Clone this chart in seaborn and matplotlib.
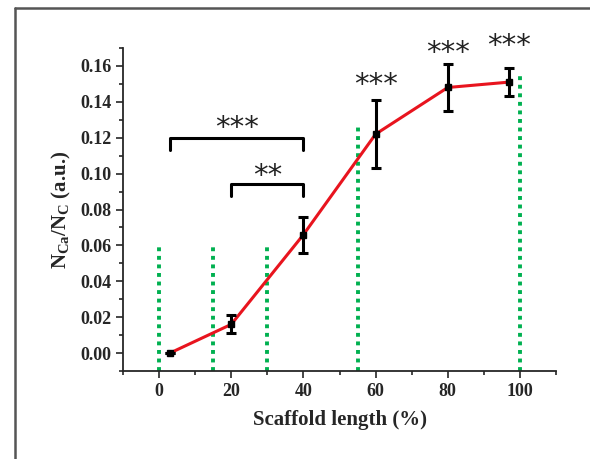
import numpy as np
import pandas as pd
import seaborn as sns
import matplotlib.pyplot as plt
from matplotlib.lines import Line2D
from matplotlib.ticker import MultipleLocator

# data
length = [3, 20, 40, 60, 80, 97]
ratio = [0.000, 0.016, 0.066, 0.122, 0.148, 0.151]
err = [0.000, 0.005, 0.010, 0.019, 0.013, 0.008]
stars_x = [60, 80, 97]
stars_y = [0.151, 0.169, 0.173]
guide_x = [0, 15, 30, 55, 100]
guide_top = [0.060, 0.060, 0.060, 0.128, 0.155]

sns.set_style("ticks")
plt.rcParams['font.family'] = ['Liberation Serif', 'DejaVu Serif']
plt.rcParams['mathtext.fontset'] = 'custom'
plt.rcParams['mathtext.rm'] = 'Liberation Serif:bold'
plt.rcParams['mathtext.it'] = 'Liberation Serif:bold'
plt.rcParams['mathtext.bf'] = 'Liberation Serif:bold'

fig = plt.figure(figsize=(5.9, 4.59), dpi=100)
ax = fig.add_axes([0.2085, 0.1917, 0.7339, 0.7037])

# green dotted guides
for gx, gt in zip(guide_x, guide_top):
    ax.plot([gx, gx], [-0.01, gt], color='#00b050', lw=2.8, ls=(0, (1, 1.2)), zorder=1)

df = pd.DataFrame({'length': length, 'ratio': ratio})
sns.lineplot(data=df, x='length', y='ratio', color='#e8141e', lw=2.2, ax=ax, zorder=2)
ax.errorbar(length, ratio, yerr=err, fmt='s', color='black', ms=5, elinewidth=2.2,
            capsize=3.5, capthick=2.2, zorder=3)

# brackets and significance stars
star_kw = dict(ha='center', va='center_baseline', fontsize=21, family='DejaVu Sans',
               color='#222222', clip_on=False)
ax.plot([3, 3, 40, 40], [0.113, 0.120, 0.120, 0.113], color='black', lw=2.2, zorder=3)
ax.plot([20, 20, 40, 40], [0.0875, 0.094, 0.094, 0.0875], color='black', lw=2.2, zorder=3)
ax.text(21.5, 0.127, '***', **star_kw)
ax.text(30, 0.1005, '**', **star_kw)
for sx, sy in zip(stars_x, stars_y):
    ax.text(sx, sy, '***', **star_kw)

ax.set_xlim(-10, 110)
ax.set_ylim(-0.01, 0.17)
ax.xaxis.set_major_locator(MultipleLocator(20))
ax.xaxis.set_minor_locator(MultipleLocator(10))
ax.yaxis.set_minor_locator(MultipleLocator(0.01))
ax.set_yticks(np.arange(0, 0.161, 0.02))
ax.yaxis.set_major_formatter(plt.FuncFormatter(lambda v, p: f'{v:.2f}'))
ax.tick_params(which='major', direction='out', length=5, width=1.2, labelsize=13)
ax.tick_params(which='minor', direction='out', length=3, width=1.2)
for lab in ax.get_xticklabels() + ax.get_yticklabels():
    lab.set_fontweight('bold')
for s in ['left', 'bottom']:
    ax.spines[s].set_linewidth(1.3)
sns.despine(ax=ax)

ax.set_xlabel('Scaffold length (%)', fontsize=15, fontweight='bold', labelpad=7)
ax.set_ylabel(r'N$_{\mathregular{Ca}}$/N$_{\mathregular{C}}$ (a.u.)', fontsize=15,
              fontweight='bold', labelpad=5)

# outer frame
fig.add_artist(Line2D([0.0254, 0.0254], [0.9826, 0.0], color='#555555', lw=1.8,
                      transform=fig.transFigure))
fig.add_artist(Line2D([0.0254, 1.0], [0.9826, 0.9826], color='#555555', lw=1.8,
                      transform=fig.transFigure))

fig.savefig('out.png', dpi=100)
